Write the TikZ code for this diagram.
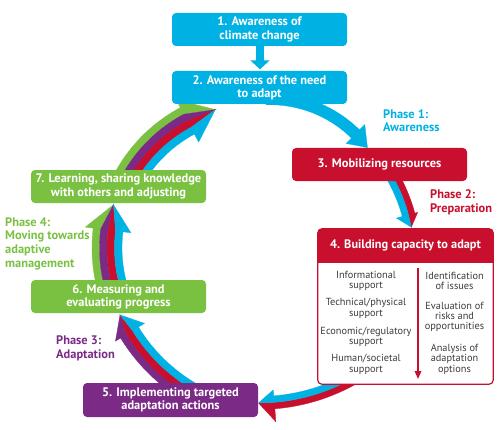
\documentclass[tikz,border=0pt]{standalone}
\usepackage{fontspec}
\setmainfont{PT Sans}
\usetikzlibrary{arrows.meta}
\definecolor{ccyan}{RGB}{0,178,227}
\definecolor{cred}{RGB}{200,16,46}
\definecolor{cpurple}{RGB}{123,42,134}
\definecolor{cgreen}{RGB}{122,193,66}
\definecolor{ctext}{RGB}{60,60,60}
% striped curved arrow along a circular arc
% #1 centre x,y  #2 centre-line radius  #3 start angle  #4 head base angle  #5 tip angle
% #6 stripe width  #7 outer barb  #8 inner barb  #9 colours, outer to inner
\newcommand\bandarrow[9]{%
  \foreach \bcol [count=\bi] in {#9} {\xdef\bn{\bi}}%
  \foreach \bcol [count=\bi] in {#9} {%
    \pgfmathsetmacro\bro{#2 + (\bn/2 - \bi + 1)*#6}%
    \pgfmathsetmacro\bri{\bro - #6}%
    \pgfmathsetmacro\bho{\bro + (\bi==1)*#7}%
    \pgfmathsetmacro\bhi{\bri - (\bi==\bn)*#8}%
    \fill[\bcol, draw=\bcol, line width=0.3pt] ([shift={(#1)}]#3:\bro pt) arc[start angle=#3, end angle=#4, radius=\bro pt]
      -- ([shift={(#1)}]#4:\bho pt) -- ([shift={(#1)}]#5:#2 pt) -- ([shift={(#1)}]#4:\bhi pt)
      -- ([shift={(#1)}]#4:\bri pt) arc[start angle=#4, end angle=#3, radius=\bri pt] -- cycle;
  }%
}
\begin{document}
\begin{tikzpicture}[x=1pt,y=1pt,
  box/.style={rounded corners=4pt, minimum width=175pt, minimum height=33pt, text=white,
    font=\bfseries\fontsize{12.4}{13.2}\selectfont, align=center, inner sep=0pt},
  phase/.style={font=\bfseries\fontsize{12.4}{13.6}\selectfont, align=left, anchor=west, inner sep=0pt},
  item/.style={font=\fontsize{10.3}{10.4}\selectfont, text=ctext, align=center, inner sep=0pt}]
\useasboundingbox (0,0) rectangle (500,429);

% curved arrows (drawn first, boxes cover their starts)
\bandarrow{270,208}{122}{92}{45.5}{37}{11.5}{7.5}{7.5}{ccyan}
\bandarrow{253,172.5}{161}{33}{15}{10.5}{6.5}{3}{6}{cred,ccyan}
\bandarrow{258.5,219}{193}{-58}{-85.3}{-90}{6.5}{13}{6}{cred,ccyan}
\bandarrow{280,188.7}{176.5}{250}{211.5}{205}{7}{6}{7}{cpurple,cred,ccyan}
\bandarrow{255,181}{148}{196}{173}{163}{7.5}{8}{8}{cgreen,cpurple,cred,ccyan}
\bandarrow{255,181}{144}{155}{118}{106}{7.5}{9}{9}{cgreen,cpurple,cred,ccyan}

% boxes
\node[box, fill=ccyan] (b1) at (259.5,399.5) {1. Awareness of\\climate change};
\node[box, fill=ccyan] (b2) at (259.5,341.5) {2. Awareness of the need\\to adapt};
\node[box, fill=cred] (b3) at (379.5,264.5) {3. Mobilizing resources};
\node[box, fill=cpurple, minimum height=34pt] (b5) at (170.5,29) {5. Implementing targeted\\adaptation actions};
\node[box, fill=cgreen] (b6) at (118.5,132.5) {6. Measuring and\\evaluating progress};
\node[box, fill=cgreen] (b7) at (118.5,242.5) {7. Learning, sharing knowledge\\with others and adjusting};

\draw[ccyan, line width=7.5pt, -{Triangle[width=19pt,length=9pt]}] ([xshift=0.5pt]b1.south) -- ([xshift=0.5pt,yshift=1.5pt]b2.north);

% box 4
\node[fill=white, minimum width=175pt, minimum height=155pt, inner sep=0pt, rounded corners=4pt] (b4) at (405.5,122.5) {};
\begin{scope}
  \clip[rounded corners=4pt] (b4.south west) rectangle (b4.north east);
  \fill[cred] (b4.north west) rectangle ([yshift=-34pt]b4.north east);
\end{scope}
\draw[cred, line width=1.2pt, rounded corners=4pt] (b4.south west) rectangle (b4.north east);
\node[text=white, font=\bfseries\fontsize{12.3}{13}\selectfont, inner sep=0pt] (h4) at ([yshift=-17pt]b4.north) {4. Building capacity to adapt};
\coordinate (v1) at (418,161);
\coordinate (v2) at (418,50);
\draw[cred, line width=1.6pt, -{Triangle[width=6.5pt,length=8pt]}] (v1) -- (v2);

\node[item] (l1) at (366,148.3) {Informational\\support};
\node[item] (l2) at (366,120.5) {Technical/physical\\support};
\node[item] (l3) at (366,92.3) {Economic/regulatory\\support};
\node[item] (l4) at (366,64.7) {Human/societal\\support};
\node[item] (r1) at (454.5,148.3) {Identification\\of issues};
\node[item] (r2) at (454.5,112.1) {Evaluation of\\risks and\\opportunities};
\node[item] (r3) at (454.5,69.8) {Analysis of\\adaptation\\options};

% phase labels
\node[phase, text=ccyan] (p1) at (383,308.5) {Phase 1:\\Awareness};
\node[phase, text=cred] (p2) at (430,226.5) {Phase 2:\\Preparation};
\node[phase, text=cpurple] (p3) at (56,80.7) {Phase 3:\\Adaptation};
\node[phase, text=cgreen] (p4) at (5,185.3) {Phase 4:\\Moving towards\\adaptive\\management};
\end{tikzpicture}
\end{document}
